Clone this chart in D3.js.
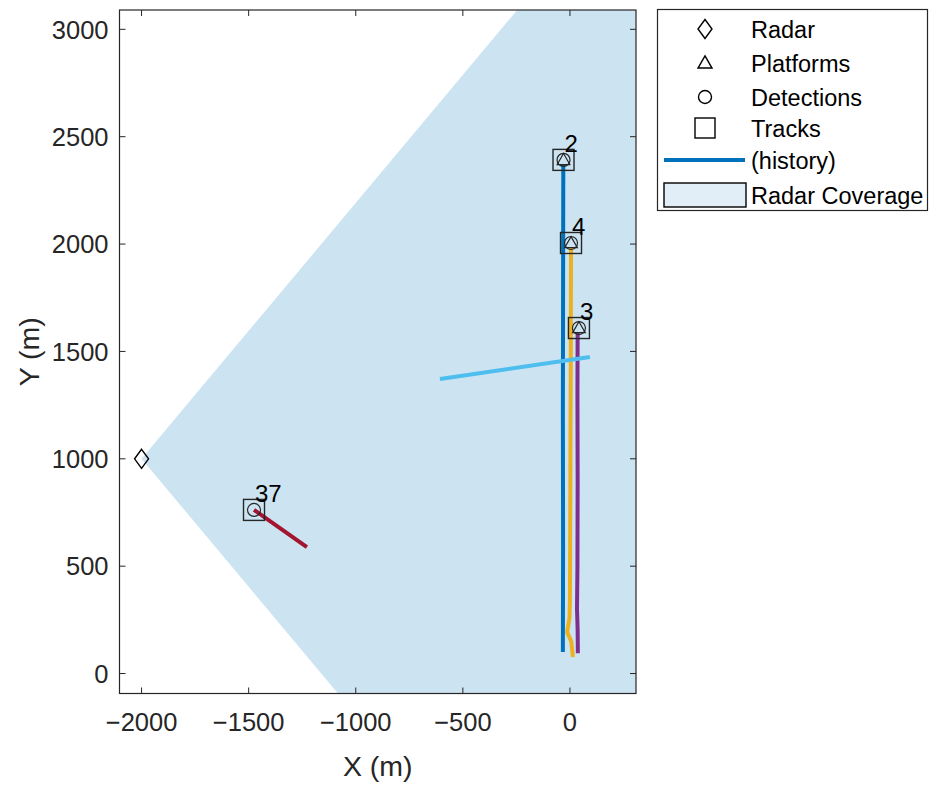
<!DOCTYPE html>
<html>
<head>
<meta charset="utf-8">
<script src="https://cdn.jsdelivr.net/npm/d3@7"></script>
<style>
  body { margin: 0; background: #fff; }
  text { font-family: "Liberation Sans", Arial, sans-serif; fill: #262626; }
</style>
</head>
<body>
<div id="chart"></div>
<script>
// data
var radarPos = [-2000, 1000];
var coverageAz = [-50, 50];   // degrees, centred on +x
var coverageRange = 4000;

var xTicks = [-2000, -1500, -1000, -500, 0];
var yTicks = [0, 500, 1000, 1500, 2000, 2500, 3000];

var trackIds = ["2", "4", "3", "37"];
var trackPos = [[-30, 2392], [5, 2005], [42, 1609], [-1475, 762]];

var hist2 = [[-33, 100], [-32, 600], [-33, 1200], [-32, 1800], [-31, 2370]];
var hist4 = [[14, 77], [6, 150], [-13, 193], [-2, 260], [0, 342], [2, 900], [4, 1500], [5, 1985]];
var hist3 = [[37, 95], [36, 200], [33, 300], [35, 500], [36, 900], [35, 1300], [36, 1590]];
var hist1 = [[-607, 1372], [93, 1474]];
var hist37 = [[-1475, 762], [-1228, 589]];

var histories = [hist2, hist4, hist3, hist1, hist37];
var histColors = ["#0072BD", "#EDB120", "#7E2F8E", "#4DBEEE", "#A2142F"];

var legendLabels = ["Radar", "Platforms", "Detections", "Tracks", "(history)", "Radar Coverage"];

// margini e dimensioni
var W = 930, H = 787;
var plot = {left: 119.5, right: 636, top: 10, bottom: 693.5};

var svg = d3.select("#chart")
  .append("svg")
    .attr("width", W)
    .attr("height", H);

var x = d3.scaleLinear().domain([-2103, 307]).range([119.5, 635.7]);
var y = d3.scaleLinear().domain([-92, 3090]).range([693.3, 10]);

svg.append("clipPath").attr("id", "clip")
  .append("rect")
    .attr("x", plot.left).attr("y", plot.top)
    .attr("width", plot.right - plot.left)
    .attr("height", plot.bottom - plot.top);

var g = svg.append("g").attr("clip-path", "url(#clip)");

// radar coverage
var fan = [radarPos];
for (var a = coverageAz[0]; a <= coverageAz[1]; a += 2) {
  var r = a * Math.PI / 180;
  fan.push([radarPos[0] + coverageRange * Math.cos(r), radarPos[1] + coverageRange * Math.sin(r)]);
}
var line = d3.line().x(function(d) { return x(d[0]); }).y(function(d) { return y(d[1]); });

g.append("path")
  .attr("d", line(fan) + "Z")
  .style("fill", "#CCE3F2")
  .style("stroke", "none");

// history lines
g.selectAll(".hist")
  .data(histories)
  .enter()
  .append("path")
    .attr("class", "hist")
    .attr("d", function(d) { return line(d); })
    .style("fill", "none")
    .style("stroke", function(d, i) { return histColors[i]; })
    .style("stroke-width", 4)
    .style("stroke-linejoin", "round");

// track markers: square + platform triangle + detection circle
var triSmall = d3.symbol().type(d3.symbolTriangle).size(70);
var triLegend = d3.symbol().type(d3.symbolTriangle).size(85);
var markerColor = "#262626";

function diamond(cx, cy, w, h) {
  return "M" + cx + "," + (cy - h / 2) + "L" + (cx + w / 2) + "," + cy +
         "L" + cx + "," + (cy + h / 2) + "L" + (cx - w / 2) + "," + cy + "Z";
}

trackPos.forEach(function(p, i) {
  var px = x(p[0]), py = y(p[1]);
  if (i < 3) {
    g.append("path")
      .attr("d", triSmall())
      .attr("transform", "translate(" + px + "," + (py + 1) + ")")
      .style("fill", "none").style("stroke", markerColor).style("stroke-width", 1.2);
  }
  g.append("circle")
    .attr("cx", px).attr("cy", py).attr("r", 6.5)
    .style("fill", "none").style("stroke", markerColor).style("stroke-width", 1.2);
  g.append("rect")
    .attr("x", px - 10.5).attr("y", py - 10.5)
    .attr("width", 21).attr("height", 21)
    .style("fill", "none").style("stroke", markerColor).style("stroke-width", 1.4);
  svg.append("text")
    .attr("x", px + 1).attr("y", py - 8)
    .style("font-size", "24px")
    .style("fill", "#000")
    .text(trackIds[i]);
});

// radar diamond
g.append("path")
  .attr("d", diamond(x(radarPos[0]), y(radarPos[1]), 14, 19))
  .style("fill", "none").style("stroke", "#000").style("stroke-width", 1.4);

// box
svg.append("rect")
  .attr("x", plot.left).attr("y", plot.top)
  .attr("width", plot.right - plot.left)
  .attr("height", plot.bottom - plot.top)
  .style("fill", "none").style("stroke", "#262626").style("stroke-width", 1.2);

// Asse X
var tl = 6;
xTicks.forEach(function(t) {
  svg.append("line")
    .attr("x1", x(t)).attr("x2", x(t))
    .attr("y1", plot.bottom).attr("y2", plot.bottom - tl)
    .style("stroke", "#262626");
  svg.append("line")
    .attr("x1", x(t)).attr("x2", x(t))
    .attr("y1", plot.top).attr("y2", plot.top + tl)
    .style("stroke", "#262626");
  svg.append("text")
    .attr("x", x(t)).attr("y", 731)
    .attr("text-anchor", "middle")
    .style("font-size", "25.5px")
    .text(t < 0 ? "\u2212" + Math.abs(t) : t);
});
svg.append("text")
  .attr("x", (plot.left + plot.right) / 2).attr("y", 776)
  .attr("text-anchor", "middle")
  .style("font-size", "28.5px")
  .text("X (m)");

// Asse Y
yTicks.forEach(function(t) {
  svg.append("line")
    .attr("x1", plot.left).attr("x2", plot.left + tl)
    .attr("y1", y(t)).attr("y2", y(t))
    .style("stroke", "#262626");
  svg.append("line")
    .attr("x1", plot.right).attr("x2", plot.right - tl)
    .attr("y1", y(t)).attr("y2", y(t))
    .style("stroke", "#262626");
  svg.append("text")
    .attr("x", plot.left - 11).attr("y", y(t) + 9.2)
    .attr("text-anchor", "end")
    .style("font-size", "25.5px")
    .text(t);
});
svg.append("text")
  .attr("transform", "translate(39," + ((plot.top + plot.bottom) / 2) + ") rotate(-90)")
  .attr("text-anchor", "middle")
  .style("font-size", "28.5px")
  .text("Y (m)");

// legenda
var lg = svg.append("g");
lg.append("rect")
  .attr("x", 657.5).attr("y", 9.5).attr("width", 270).attr("height", 201)
  .style("fill", "#fff").style("stroke", "#262626").style("stroke-width", 1.2);

var rowY = [29, 63, 97, 128, 160, 195];
var mx = 705;
legendLabels.forEach(function(lab, i) {
  lg.append("text")
    .attr("x", 751).attr("y", rowY[i] + 8.5)
    .style("font-size", "23.5px")
    .style("fill", "#000")
    .text(lab);
});
lg.append("path")
  .attr("d", diamond(mx, rowY[0], 14, 19))
  .style("fill", "none").style("stroke", "#000").style("stroke-width", 1.4);
lg.append("path")
  .attr("d", triLegend())
  .attr("transform", "translate(" + mx + "," + (rowY[1] + 1) + ")")
  .style("fill", "none").style("stroke", "#000").style("stroke-width", 1.4);
lg.append("circle")
  .attr("cx", mx).attr("cy", rowY[2]).attr("r", 6.5)
  .style("fill", "none").style("stroke", "#000").style("stroke-width", 1.4);
lg.append("rect")
  .attr("x", mx - 10).attr("y", rowY[3] - 10).attr("width", 20).attr("height", 20)
  .style("fill", "none").style("stroke", "#000").style("stroke-width", 1.4);
lg.append("line")
  .attr("x1", 664).attr("x2", 745).attr("y1", rowY[4]).attr("y2", rowY[4])
  .style("stroke", "#0072BD").style("stroke-width", 4);
lg.append("rect")
  .attr("x", 664).attr("y", rowY[5] - 12).attr("width", 82).attr("height", 24)
  .style("fill", "#E1EEF8").style("stroke", "#000").style("stroke-width", 1.4);
</script>
</body>
</html>
